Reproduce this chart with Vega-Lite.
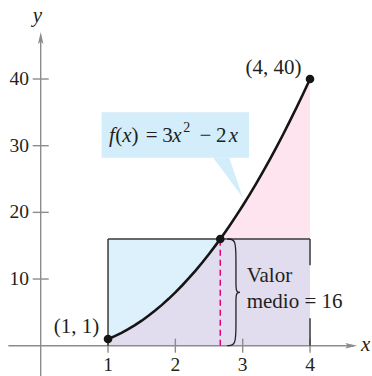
{
  "$schema": "https://vega.github.io/schema/vega-lite/v6.json",
  "width": 372,
  "height": 376,
  "padding": 0,
  "autosize": {"type": "none"},
  "background": "white",
  "config": {"view": {"stroke": null}},
  "datasets": {
    "curve": [
      {"x": 1.0, "y": 1.0, "lo": 1.0},
      {"x": 1.1, "y": 1.43, "lo": 1.43},
      {"x": 1.2, "y": 1.92, "lo": 1.92},
      {"x": 1.3, "y": 2.47, "lo": 2.47},
      {"x": 1.4, "y": 3.08, "lo": 3.08},
      {"x": 1.5, "y": 3.75, "lo": 3.75},
      {"x": 1.6, "y": 4.48, "lo": 4.48},
      {"x": 1.7, "y": 5.27, "lo": 5.27},
      {"x": 1.8, "y": 6.12, "lo": 6.12},
      {"x": 1.9, "y": 7.03, "lo": 7.03},
      {"x": 2.0, "y": 8.0, "lo": 8.0},
      {"x": 2.1, "y": 9.03, "lo": 9.03},
      {"x": 2.2, "y": 10.12, "lo": 10.12},
      {"x": 2.3, "y": 11.27, "lo": 11.27},
      {"x": 2.4, "y": 12.48, "lo": 12.48},
      {"x": 2.5, "y": 13.75, "lo": 13.75},
      {"x": 2.6, "y": 15.08, "lo": 15.08},
      {"x": 2.667, "y": 16.0, "lo": 16.0},
      {"x": 2.7, "y": 16.47, "lo": 16.0},
      {"x": 2.8, "y": 17.92, "lo": 16.0},
      {"x": 2.9, "y": 19.43, "lo": 16.0},
      {"x": 3.0, "y": 21.0, "lo": 16.0},
      {"x": 3.1, "y": 22.63, "lo": 16.0},
      {"x": 3.2, "y": 24.32, "lo": 16.0},
      {"x": 3.3, "y": 26.07, "lo": 16.0},
      {"x": 3.4, "y": 27.88, "lo": 16.0},
      {"x": 3.5, "y": 29.75, "lo": 16.0},
      {"x": 3.6, "y": 31.68, "lo": 16.0},
      {"x": 3.7, "y": 33.67, "lo": 16.0},
      {"x": 3.8, "y": 35.72, "lo": 16.0},
      {"x": 3.9, "y": 37.83, "lo": 16.0},
      {"x": 4.0, "y": 40.0, "lo": 16.0}
    ],
    "brace": [
      {"o": 0, "x": 2.77, "y": 16},
      {"o": 1, "x": 2.9, "y": 16},
      {"o": 2, "x": 2.9, "y": 13},
      {"o": 3, "x": 2.9, "y": 9},
      {"o": 4, "x": 2.9, "y": 8},
      {"o": 5, "x": 2.99, "y": 8},
      {"o": 6, "x": 2.9, "y": 8},
      {"o": 7, "x": 2.9, "y": 7},
      {"o": 8, "x": 2.9, "y": 3},
      {"o": 9, "x": 2.9, "y": 0},
      {"o": 10, "x": 2.77, "y": 0}
    ]
  },
  "encoding": {
    "x": {"field": "x", "type": "quantitative", "scale": {"domain": [-0.6045, 4.9207], "nice": false, "zero": false}, "axis": null},
    "y": {"field": "y", "type": "quantitative", "scale": {"domain": [-4.545, 51.85], "nice": false, "zero": false}, "axis": null}
  },
  "layer": [
    {
      "data": {"name": "curve"},
      "mark": {"type": "area", "color": "#fde4ee"},
      "encoding": {"y2": {"datum": 0}}
    },
    {
      "data": {"values": [{"x": 1, "x2": 4, "y": 0, "y2": 16}]},
      "mark": {"type": "rect", "fill": "#dcf1fb"},
      "encoding": {"x2": {"field": "x2"}, "y2": {"field": "y2"}}
    },
    {
      "data": {"name": "curve"},
      "mark": {"type": "area", "color": "#e1ddef"},
      "encoding": {"y": {"field": "lo", "type": "quantitative"}, "y2": {"datum": 0}}
    },
    {
      "data": {"values": [{"x": 0.905, "x2": 3.094, "y": 35.0, "y2": 28.2}]},
      "mark": {"type": "rect", "fill": "#d3edfa"},
      "encoding": {"x2": {"field": "x2"}, "y2": {"field": "y2"}}
    },
    {
      "data": {"values": [
        {"x": 2.563, "y": 28.2, "y2": 28.2},
        {"x": 2.8, "y": 28.2, "y2": 24.96},
        {"x": 3.005, "y": 22.15, "y2": 22.15}
      ]},
      "mark": {"type": "area", "color": "#d3edfa"},
      "encoding": {"y2": {"field": "y2"}}
    },
    {
      "data": {"values": [
        {"x": -0.481, "y": 0, "x2": 4.65, "y2": 0},
        {"x": 0, "y": -4.6, "x2": 0, "y2": 46.5},
        {"x": 1, "y": -1.05, "x2": 1, "y2": 1.05},
        {"x": 2, "y": -1.05, "x2": 2, "y2": 1.05},
        {"x": 3, "y": -1.05, "x2": 3, "y2": 1.05},
        {"x": 4, "y": -1.05, "x2": 4, "y2": 1.05},
        {"x": -0.119, "y": 10, "x2": 0.119, "y2": 10},
        {"x": -0.119, "y": 20, "x2": 0.119, "y2": 20},
        {"x": -0.119, "y": 30, "x2": 0.119, "y2": 30},
        {"x": -0.119, "y": 40, "x2": 0.119, "y2": 40}
      ]},
      "mark": {"type": "rule", "color": "#8c8c8c", "strokeWidth": 1.4},
      "encoding": {"x2": {"field": "x2"}, "y2": {"field": "y2"}}
    },
    {
      "data": {"values": [{"x": 4.613, "y": 0}]},
      "mark": {"type": "point", "shape": "M-1,-0.45L1,0L-1,0.45L-0.6,0Z", "size": 144, "filled": true, "color": "#8c8c8c", "opacity": 1}
    },
    {
      "data": {"values": [{"x": 0, "y": 46.15}]},
      "mark": {"type": "point", "shape": "M-0.45,1L0,-1L0.45,1L0,0.6Z", "size": 144, "filled": true, "color": "#8c8c8c", "opacity": 1}
    },
    {
      "data": {"values": [
        {"x": 1, "y": 0, "x2": 1, "y2": 16},
        {"x": 1, "y": 16, "x2": 4, "y2": 16},
        {"x": 4, "y": 16, "x2": 4, "y2": 12.07},
        {"x": 4, "y": 4.13, "x2": 4, "y2": 0}
      ]},
      "mark": {"type": "rule", "color": "#3a3a3a", "strokeWidth": 1.5},
      "encoding": {"x2": {"field": "x2"}, "y2": {"field": "y2"}}
    },
    {
      "data": {"values": [{"x": 2.667, "y": 0, "x2": 2.667, "y2": 16}]},
      "mark": {"type": "rule", "color": "#e5007d", "strokeWidth": 1.5, "strokeDash": [6, 4]},
      "encoding": {"x2": {"field": "x2"}, "y2": {"field": "y2"}}
    },
    {
      "data": {"name": "curve"},
      "mark": {"type": "line", "color": "#151515", "strokeWidth": 2.6}
    },
    {
      "data": {"name": "brace"},
      "mark": {"type": "line", "color": "#222222", "strokeWidth": 1.3, "interpolate": "basis"},
      "encoding": {"order": {"field": "o", "type": "quantitative"}}
    },
    {
      "data": {"values": [{"x": 1, "y": 1}, {"x": 2.667, "y": 16}, {"x": 4, "y": 40}]},
      "mark": {"type": "point", "filled": true, "color": "#151515", "size": 75, "opacity": 1}
    },
    {
      "data": {"values": [
        {"x": 1, "y": -3.85, "t": "1"},
        {"x": 2, "y": -3.85, "t": "2"},
        {"x": 3, "y": -3.85, "t": "3"},
        {"x": 4, "y": -3.85, "t": "4"}
      ]},
      "mark": {"type": "text", "font": "Liberation Serif", "fontSize": 19.5, "align": "center", "baseline": "alphabetic", "color": "#231f20"},
      "encoding": {"text": {"field": "t"}}
    },
    {
      "data": {"values": [
        {"x": -0.174, "y": 10, "t": "10"},
        {"x": -0.174, "y": 20, "t": "20"},
        {"x": -0.174, "y": 30, "t": "30"},
        {"x": -0.174, "y": 40, "t": "40"}
      ]},
      "mark": {"type": "text", "font": "Liberation Serif", "fontSize": 19.5, "align": "right", "baseline": "middle", "color": "#231f20"},
      "encoding": {"text": {"field": "t"}}
    },
    {
      "data": {"values": [
        {"x": 0.532, "y": 1.9, "t": "(1, 1)"},
        {"x": 3.458, "y": 40.75, "t": "(4, 40)"},
        {"x": 1.158, "y": 30.55, "t": "("},
        {"x": 1.4, "y": 30.55, "t": ")"},
        {"x": 1.649, "y": 30.55, "t": "="},
        {"x": 1.883, "y": 30.55, "t": "3"},
        {"x": 2.448, "y": 30.55, "t": "−"},
        {"x": 2.681, "y": 30.55, "t": "2"}
      ]},
      "mark": {"type": "text", "font": "Liberation Serif", "fontSize": 21, "align": "center", "baseline": "alphabetic", "color": "#231f20"},
      "encoding": {"text": {"field": "t"}}
    },
    {
      "data": {"values": [{"x": 2.17, "y": 32.1, "t": "2"}]},
      "mark": {"type": "text", "font": "Liberation Serif", "fontSize": 14, "align": "center", "baseline": "alphabetic", "color": "#231f20"},
      "encoding": {"text": {"field": "t"}}
    },
    {
      "data": {"values": [
        {"x": 1.059, "y": 30.55, "t": "f"},
        {"x": 1.282, "y": 30.55, "t": "x"},
        {"x": 2.024, "y": 30.55, "t": "x"},
        {"x": 2.861, "y": 30.55, "t": "x"},
        {"x": -0.048, "y": 48.55, "t": "y"},
        {"x": 4.827, "y": -0.75, "t": "x"}
      ]},
      "mark": {"type": "text", "font": "Liberation Serif", "fontSize": 21, "fontStyle": "italic", "align": "center", "baseline": "alphabetic", "color": "#231f20"},
      "encoding": {"text": {"field": "t"}}
    },
    {
      "data": {"values": [
        {"x": 3.059, "y": 9.6, "t": "Valor"},
        {"x": 3.059, "y": 5.65, "t": "medio = 16"}
      ]},
      "mark": {"type": "text", "font": "Liberation Serif", "fontSize": 21, "align": "left", "baseline": "alphabetic", "color": "#231f20"},
      "encoding": {"text": {"field": "t"}}
    }
  ]
}
